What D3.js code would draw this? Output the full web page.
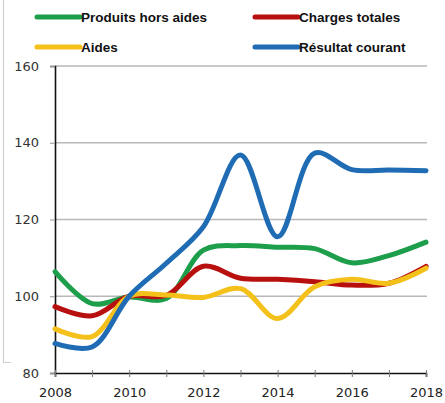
<!DOCTYPE html>
<html><head><meta charset="utf-8">
<script src="https://cdn.jsdelivr.net/npm/d3@7"></script>
<style>body{margin:0;background:#fff}svg{display:block}</style>
</head><body><svg id="c" width="445" height="403"></svg>
<script>
const years = [2008,2009,2010,2011,2012,2013,2014,2015,2016,2017,2018];
const produitsHorsAides = [106.4,98.1,99.8,99.4,112.0,113.2,112.8,112.4,108.7,110.6,114.1];
const chargesTotales   = [97.3,94.9,100,100.2,107.8,104.7,104.4,103.8,102.9,103.4,107.8];
const aides            = [91.5,89.5,100,100.3,99.7,102.0,94.2,102.5,104.4,103.4,107.3];
const resultatCourant  = [87.7,86.8,100,108.6,118.1,136.8,115.5,137.3,133.0,132.9,132.7];
const yTicks = [80,100,120,140,160];
const xTicks = [2008,2010,2012,2014,2016,2018];
const seriesNames = ["Produits hors aides","Charges totales","Aides","Résultat courant"];
const seriesColors = ["#1d9e4b","#b8100e","#f4c01a","#1f6cb4"];
const seriesData = [produitsHorsAides,chargesTotales,aides,resultatCourant];

const svg = d3.select("#c");
const x = d3.scaleLinear().domain([2008,2018]).range([55,426]);
const y = d3.scaleLinear().domain([80,160]).range([373,66]);

// frame fragment
svg.append("path").attr("d","M3.5,0V362.5H11").attr("fill","none").attr("stroke","#cfcfcf").attr("stroke-width",1.2);

// gridlines
svg.append("g").selectAll("line").data(yTicks.filter(d=>d>80)).join("line")
  .attr("x1",55).attr("x2",427).attr("y1",d=>y(d)).attr("y2",d=>y(d))
  .attr("stroke","#b8b8b8").attr("stroke-width",1.4);

// y axis
const ya = svg.append("g").attr("transform","translate(55,0)")
  .call(d3.axisLeft(y).tickValues(yTicks).tickSize(5).tickPadding(11).tickFormat(d3.format("d")));
ya.select(".domain").attr("stroke","#111").attr("stroke-width",1.6);
ya.selectAll(".tick line").attr("stroke","#999");
ya.selectAll("text").attr("font-family","DejaVu Sans").attr("font-size",13).attr("fill","#333");

// x axis
const xa = svg.append("g").attr("transform","translate(0,373)")
  .call(d3.axisBottom(x).tickValues(years).tickSize(4).tickPadding(11).tickFormat(d=>xTicks.includes(d)?String(d):""));
xa.select(".domain").attr("stroke","#111").attr("stroke-width",1.6);
xa.selectAll(".tick line").attr("stroke","#777").attr("y1",-3);
xa.selectAll("text").attr("font-family","DejaVu Sans").attr("font-size",13).attr("fill","#222");

// lines
const line = d3.line().x((d,i)=>x(years[i])).y(d=>y(d)).curve(d3.curveCatmullRom.alpha(0.5));
seriesData.forEach((s,k)=>{
  svg.append("path").datum(s).attr("d",line).attr("fill","none")
    .attr("stroke",seriesColors[k]).attr("stroke-width",5).attr("stroke-linejoin","round").attr("stroke-linecap","round");
});

// legend
const legendPos = [[37,17],[255,17],[37,47],[255,47]];
seriesNames.forEach((n,k)=>{
  const [lx,ly] = legendPos[k];
  svg.append("line").attr("x1",lx).attr("x2",lx+43).attr("y1",ly).attr("y2",ly)
    .attr("stroke",seriesColors[k]).attr("stroke-width",5).attr("stroke-linecap","round");
  svg.append("text").attr("x",lx+44).attr("y",ly+5).text(n)
    .attr("font-family","Liberation Sans, Arial").attr("font-size",13.5).attr("font-weight","bold").attr("fill","#111");
});
</script></body></html>
